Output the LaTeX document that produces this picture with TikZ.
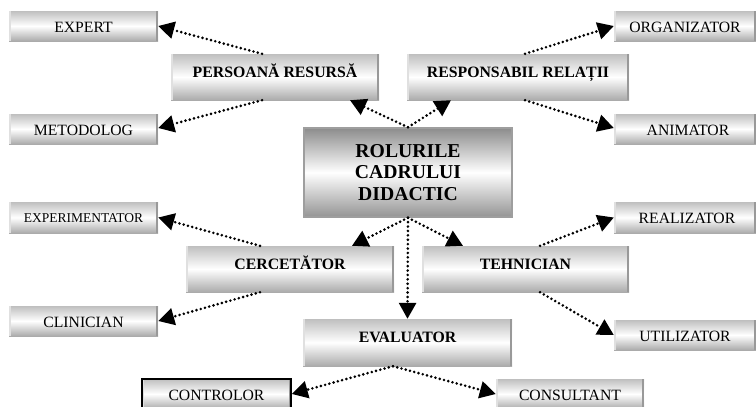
\documentclass[tikz,border=0pt]{standalone}
\usepackage{fontspec}
\setmainfont{Liberation Serif}
\usetikzlibrary{arrows.meta}

\tikzset{
  % grey-white-grey bar with a darker strip on the right edge
  bar/.style={inner sep=0pt, top color=black!25, bottom color=black!33, middle color=white,
    path picture={
      \fill[black!40] ([xshift=-2.5pt]path picture bounding box.north east)
        rectangle (path picture bounding box.south east);
      \fill[black!12] (path picture bounding box.north west)
        rectangle ([xshift=1.5pt]path picture bounding box.south west);}},
  leaf/.style={bar, minimum width=149pt, minimum height=30pt,
    text height=12pt, text depth=0pt, font=\fontsize{15.7}{17}\selectfont},
  role/.style={bar, minimum height=46pt, text height=11pt, text depth=11pt,
    font=\bfseries\fontsize{15.8}{17}\selectfont},
  core/.style={inner sep=0pt, minimum width=208pt, minimum height=89pt,
    draw=black!38, line width=1.5pt,
    top color=black!45, bottom color=black!42, middle color=white,
    align=center, font=\bfseries\fontsize{19.7}{21.5}\selectfont},
  link/.style={line width=2.9pt, line cap=round, dash pattern=on 0pt off 4.4pt,
    -{Triangle[length=16pt,width=17pt]}}
}

\begin{document}
\begin{tikzpicture}[x=1pt,y=-1pt]
\useasboundingbox (0,0) rectangle (756,407);
\clip (0,0) rectangle (756,407);

% centre
\node[core] (roluri) at (408,172.5) {ROLURILE\\CADRULUI\\DIDACTIC};

% second level
\node[role, minimum width=208pt] (persoana) at (275,77) {PERSOANĂ RESURSĂ};
\node[role, minimum width=222pt] (responsabil) at (518,77) {RESPONSABIL RELAȚII};
\node[role, minimum width=208pt] (cercetator) at (290,269) {CERCETĂTOR};
\node[role, minimum width=207pt] (tehnician) at (525.5,269) {TEHNICIAN};
\node[role, minimum width=209pt, minimum height=47pt] (evaluator) at (407.5,342.5) {EVALUATOR};

% third level
\node[leaf] (expert) at (83.5,26) {EXPERT};
\node[leaf] (metodolog) at (83.5,129) {METODOLOG\hspace{20pt}};
\node[leaf, minimum width=142pt] (organizator) at (685,26) {ORGANIZATOR};
\node[leaf, minimum width=142pt] (animator) at (685,129) {\hspace{6pt}ANIMATOR};
\node[leaf, minimum height=31pt, text height=9pt, font=\fontsize{13.5}{15}\selectfont]
  (experimentator) at (83.5,217.5) {EXPERIMENTATOR};
\node[leaf] (clinician) at (83.5,321) {CLINICIAN};
\node[leaf, minimum width=142pt, minimum height=31pt] (realizator) at (685,217.5) {\hspace{4pt}REALIZATOR};
\node[leaf, minimum width=142pt] (utilizator) at (685,335) {UTILIZATOR\hspace{23pt}};
\node[leaf, draw=black, line width=1.5pt] (controlor) at (216.5,394) {CONTROLOR};
\node[leaf, minimum width=148pt] (consultant) at (570,394) {CONSULTANT\hspace{20pt}};

% connectors
\draw[link] (roluri.north) -- ([xshift=75pt]persoana.south);
\draw[link] (roluri.north) -- ([xshift=-67pt]responsabil.south);
\draw[link] (roluri.south) -- ([xshift=62pt]cercetator.north);
\draw[link] (roluri.south) -- ([xshift=-62.5pt]tehnician.north);
\draw[link] (roluri.south) -- (evaluator.north);

\draw[link] ([xshift=-13pt]persoana.north) -- (expert.east);
\draw[link] ([xshift=-13pt]persoana.south) -- ([yshift=1pt]metodolog.east);
\draw[link] ([xshift=7pt]responsabil.north) -- (organizator.west);
\draw[link] ([xshift=7pt]responsabil.south) -- ([yshift=1pt]animator.west);
\draw[link] ([xshift=-30pt]cercetator.north) -- (experimentator.east);
\draw[link] ([xshift=-30pt]cercetator.south) -- (clinician.east);
\draw[link] ([xshift=14.5pt]tehnician.north) -- (realizator.west);
\draw[link] ([xshift=14.5pt]tehnician.south) -- (utilizator.west);
\draw[link] ([xshift=-14.5pt]evaluator.south) -- (controlor.east);
\draw[link] ([xshift=-14.5pt]evaluator.south) -- (consultant.west);
\end{tikzpicture}
\end{document}
